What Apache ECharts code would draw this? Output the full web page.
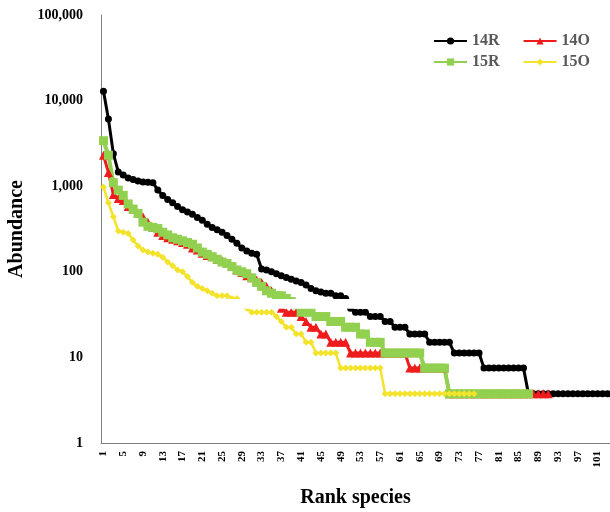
<!DOCTYPE html>
<html><head><meta charset="utf-8">
<script src="https://cdn.jsdelivr.net/npm/echarts@6/dist/echarts.min.js"></script>
<style>html,body{margin:0;padding:0;background:#fff}#c{width:610px;height:512px}</style>
</head><body><div id="c"></div>
<script>
// Rank categories (x axis tick labels 1..103)
const ranks = Array.from({length: 103}, (_, i) => String(i + 1));

// 14R (black)
const s14R = [12900, 6100, 2400, 1470, 1350, 1250, 1200, 1150, 1120, 1110,
  1100, 900, 780, 700, 640, 580, 530, 500, 470, 430,
  400, 360, 330, 310, 290, 265, 240, 215, 190, 175,
  165, 160, 108, 105, 100, 95, 90, 86, 82, 78,
  75, 70, 64, 60, 58, 56.25, 56.25, 52.5, 52.5, 48.75,
  37.5, 33.75, 33.75, 33.75, 30, 30, 30, 26.25, 26.25, 22.5,
  22.5, 22.5, 18.75, 18.75, 18.75, 18.75, 15, 15, 15, 15,
  15, 11.25, 11.25, 11.25, 11.25, 11.25, 11.25,
  7.5, 7.5, 7.5, 7.5, 7.5, 7.5, 7.5, 7.5, 7.5,
  3.75, 3.75, 3.75, 3.75, 3.75, 3.75, 3.75, 3.75, 3.75, 3.75,
  3.75, 3.75, 3.75, 3.75, 3.75, 3.75, 3.75];

// 14O (red)
const s14O = [2300, 1450, 800, 720, 680, 580, 540, 490, 440, 380,
  330, 290, 265, 250, 240, 230, 220, 210, 190, 180,
  165, 155, 150, 140, 135, 125, 115, 105, 98, 90,
  85, 80, 75, 67.5, 60, 45, 37.5, 33.75, 33.75, 33.75,
  30, 26.25, 22.5, 22.5, 18.75, 18.75, 15, 15, 15, 15,
  11.25, 11.25, 11.25, 11.25, 11.25, 11.25, 11.25, 11.25, 11.25, 11.25,
  11.25, 11.25,
  7.5, 7.5, 7.5, 7.5, 7.5, 7.5, 7.5, 7.5,
  3.75, 3.75, 3.75, 3.75, 3.75, 3.75, 3.75, 3.75, 3.75, 3.75,
  3.75, 3.75, 3.75, 3.75, 3.75, 3.75, 3.75, 3.75, 3.75, 3.75, 3.75];

// 15R (green)
const s15R = [3400, 2300, 1100, 900, 780, 620, 540, 480, 380, 340,
  330, 320, 290, 270, 250, 240, 230, 220, 210, 190,
  170, 160, 150, 140, 130, 125, 115, 105, 100, 95,
  85, 75, 67.5, 60, 56.25, 52.5, 52.5, 48.75, 45, 41.25,
  33.75, 33.75, 33.75, 30, 30, 30, 26.25, 26.25, 26.25, 22.5,
  22.5, 22.5, 18.75, 18.75, 15, 15, 15,
  11.25, 11.25, 11.25, 11.25, 11.25, 11.25, 11.25, 11.25,
  7.5, 7.5, 7.5, 7.5, 7.5,
  3.75, 3.75, 3.75, 3.75, 3.75, 3.75, 3.75, 3.75, 3.75, 3.75,
  3.75, 3.75, 3.75, 3.75, 3.75, 3.75, 3.75];

// 15O (yellow)
const s15O = [980, 640, 440, 300, 290, 280, 235, 200, 180, 170,
  165, 160, 148, 130, 118, 105, 100, 88, 75, 68,
  63.75, 60, 56.25, 52.5, 52.5, 52.5, 48.75, 48.75, 41.25, 37.5,
  33.75, 33.75, 33.75, 33.75, 33.75, 30, 26.25, 22.5, 22.5, 18.75,
  18.75, 15, 15,
  11.25, 11.25, 11.25, 11.25, 11.25,
  7.5, 7.5, 7.5, 7.5, 7.5, 7.5, 7.5, 7.5, 7.5,
  3.75, 3.75, 3.75, 3.75, 3.75, 3.75, 3.75, 3.75, 3.75, 3.75,
  3.75, 3.75, 3.75, 3.75, 3.75, 3.75, 3.75, 3.75, 3.75];

// y-axis range and the white band seen across the reference (value range)
const yTicks = [1, 10, 100, 1000, 10000, 100000];
const band = [37, 48];

const FONT = 'Liberation Serif';
const chart = echarts.init(document.getElementById('c'), null, {renderer: 'canvas'});

function lineSeries(name, data, color, symbol, size, width) {
  return {
    name, type: 'line', data, color,
    symbol, symbolSize: size, showAllSymbol: true,
    lineStyle: {color, width}, itemStyle: {color},
    emphasis: {disabled: true}
  };
}

const legendCommon = {
  orient: 'horizontal', left: 428, itemWidth: 33, itemHeight: 9, itemGap: 23,
  textStyle: {fontFamily: FONT, fontWeight: 'bold', fontSize: 16, color: '#595959'}
};

chart.setOption({
  animation: false,
  backgroundColor: '#fff',
  grid: {left: 101, right: 0, top: 15, bottom: 69, containLabel: false, outerBoundsMode: 'none'},
  legend: [
    Object.assign({}, legendCommon, {top: 28, data: ['14R', '14O']}),
    Object.assign({}, legendCommon, {top: 49, data: ['15R', '15O']})
  ],
  xAxis: {
    type: 'category', data: ranks, boundaryGap: true,
    name: 'Rank species', nameLocation: 'middle', nameGap: 45,
    nameTextStyle: {fontFamily: FONT, fontWeight: 'bold', fontSize: 20, color: '#000'},
    axisLine: {show: true, lineStyle: {color: '#7f7f7f', width: 1}},
    axisTick: {show: false},
    axisLabel: {interval: 3, rotate: 90, margin: 8, fontFamily: FONT, fontWeight: 'bold', fontSize: 11, color: '#000'},
    splitLine: {show: false}
  },
  yAxis: {
    type: 'log', logBase: 10, min: yTicks[0], max: yTicks[yTicks.length - 1],
    name: 'Abundance', nameLocation: 'middle', nameGap: 69, nameRotate: 90,
    nameTextStyle: {fontFamily: FONT, fontWeight: 'bold', fontSize: 20, color: '#000'},
    axisLine: {show: true, lineStyle: {color: '#7f7f7f', width: 1}},
    axisTick: {show: false},
    axisLabel: {margin: 18, fontFamily: FONT, fontWeight: 'bold', fontSize: 14, color: '#000',
      formatter: v => Math.round(v).toLocaleString('en-US')},
    splitLine: {show: false}
  },
  series: [
    lineSeries('14R', s14R, '#000000', 'circle', 7, 3),
    lineSeries('14O', s14O, '#ee1c1c', 'triangle', 9, 3),
    lineSeries('15R', s15R, '#92d050', 'rect', 9, 4),
    lineSeries('15O', s15O, '#f3e32c', 'diamond', 7, 2.5)
  ]
});

// White band (scan artifact in the reference), positioned through the library's scales
const yTop = chart.convertToPixel({yAxisIndex: 0}, band[1]);
const yBot = chart.convertToPixel({yAxisIndex: 0}, band[0]);
const xL = chart.convertToPixel({xAxisIndex: 0}, ranks[0]);
chart.setOption({
  graphic: [{
    type: 'rect', z: 100, silent: true,
    shape: {x: xL - 1, y: yTop, width: chart.getWidth() - xL + 1, height: yBot - yTop},
    style: {fill: '#ffffff'}
  }]
});
</script>
</body></html>
